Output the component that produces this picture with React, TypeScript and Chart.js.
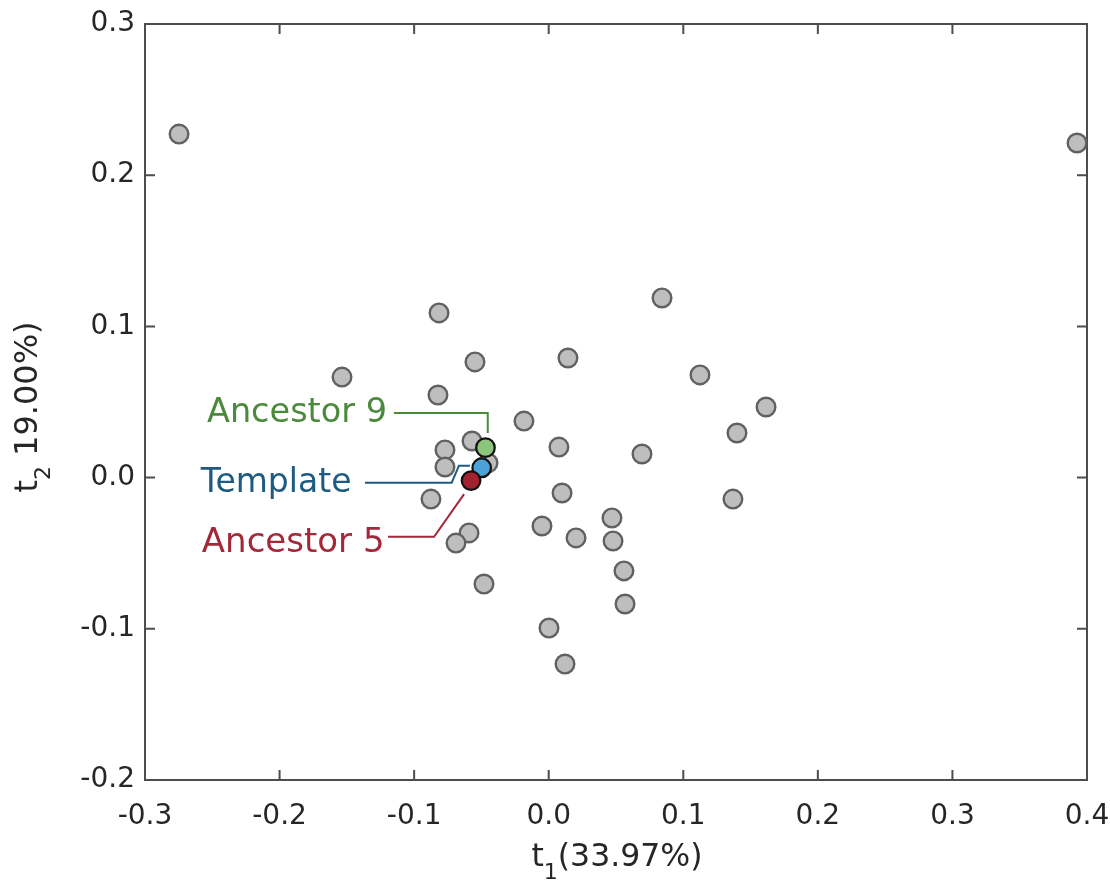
import React, { useEffect, useRef } from "react";
import { Chart, registerables } from "chart.js";

Chart.register(...registerables);

// ---- data ----
const sampleX = [
  -0.2747, 0.3926, -0.0815, 0.0842, -0.1536, -0.0548, 0.0143, 0.1124,
  -0.0823, -0.0184, 0.1615, 0.1399, 0.0076, 0.0693, -0.0771, -0.057,
  -0.0771, -0.0451, -0.0875, 0.0099, 0.1369, -0.005, 0.047, 0.0203,
  0.0478, -0.0592, -0.0689, 0.0559, -0.0481, 0.0567, 0.0002, 0.0121,
];
const sampleY = [
  0.2272, 0.2213, 0.1089, 0.1188, 0.0665, 0.0765, 0.0791, 0.0679,
  0.0546, 0.0374, 0.0467, 0.0295, 0.0202, 0.0156, 0.0183, 0.0242,
  0.007, 0.0097, -0.0142, -0.0102, -0.0142, -0.032, -0.0267, -0.0399,
  -0.0419, -0.0366, -0.0433, -0.0617, -0.0704, -0.0836, -0.0995, -0.1233,
];
const templateX = [-0.0498];
const templateY = [0.0065];
const ancestor5X = [-0.0577];
const ancestor5Y = [-0.002];
const ancestor9X = [-0.047];
const ancestor9Y = [0.0198];

const xTicks = [-0.3, -0.2, -0.1, 0.0, 0.1, 0.2, 0.3, 0.4];
const yTicks = [-0.2, -0.1, 0.0, 0.1, 0.2, 0.3];

const xTitleMain = "t";
const xTitleSub = "1";
const xTitleRest = "(33.97%)";
const yTitleMain = "t";
const yTitleSub = "2";
const yTitleRest = " 19.00%)";

// callouts in data units: label anchor (right end, baseline) and connector path
const labelAncestor9 = "Ancestor 9";
const labelTemplate = "Template";
const labelAncestor5 = "Ancestor 5";
const ancestor9LabelAt = [-0.1202, 0.037];
const templateLabelAt = [-0.1466, -0.0093];
const ancestor5LabelAt = [-0.122, -0.049];
const ancestor9Path = [[-0.115, 0.0427], [-0.0453, 0.0427], [-0.0453, 0.0295]];
const templatePath = [[-0.1365, -0.0034], [-0.0721, -0.0034], [-0.0667, 0.0079], [-0.0585, 0.0079]];
const ancestor5Path = [[-0.1194, -0.0391], [-0.0852, -0.0391], [-0.0629, -0.0109]];

const FONT = "'DejaVu Sans', sans-serif";
const GREEN = "#4b8a3c";
const BLUE = "#1d5b82";
const RED = "#a3283a";
const AXIS = "#4d4d4d";
const TEXT = "#262626";

const fmt = (v: number) => (Math.abs(v) < 1e-9 ? "0.0" : Number(v).toFixed(1));

const decorPlugin = {
  id: "decor",
  beforeDatasetsDraw(chart: any) {
    const { ctx, chartArea: a, scales } = chart;
    ctx.save();
    ctx.strokeStyle = AXIS;
    ctx.lineWidth = 2;
    ctx.strokeRect(a.left, a.top, a.right - a.left, a.bottom - a.top);
    const L = 10;
    ctx.beginPath();
    for (const t of xTicks) {
      const px = scales.x.getPixelForValue(t);
      ctx.moveTo(px, a.bottom);
      ctx.lineTo(px, a.bottom - L);
      ctx.moveTo(px, a.top);
      ctx.lineTo(px, a.top + L);
    }
    for (const t of yTicks) {
      const py = scales.y.getPixelForValue(t);
      ctx.moveTo(a.left, py);
      ctx.lineTo(a.left + L, py);
      ctx.moveTo(a.right, py);
      ctx.lineTo(a.right - L, py);
    }
    ctx.stroke();
    ctx.restore();
  },
  afterDatasetsDraw(chart: any) {
    const { ctx, scales } = chart;
    const X = (v: number) => scales.x.getPixelForValue(v);
    const Y = (v: number) => scales.y.getPixelForValue(v);
    ctx.save();
    const callouts: [string, number[], number[][], string, number][] = [
      [labelAncestor9, ancestor9LabelAt, ancestor9Path, GREEN, 33.5],
      [labelTemplate, templateLabelAt, templatePath, BLUE, 33],
      [labelAncestor5, ancestor5LabelAt, ancestor5Path, RED, 34],
    ];
    for (const [label, at, path, color, size] of callouts) {
      ctx.strokeStyle = color;
      ctx.lineWidth = 2;
      ctx.beginPath();
      path.forEach((p, i) => {
        if (i === 0) ctx.moveTo(X(p[0]), Y(p[1]));
        else ctx.lineTo(X(p[0]), Y(p[1]));
      });
      ctx.stroke();
      ctx.fillStyle = color;
      ctx.font = `${size}px ${FONT}`;
      ctx.textAlign = "right";
      ctx.textBaseline = "alphabetic";
      ctx.fillText(label, X(at[0]), Y(at[1]));
    }
    ctx.restore();
  },
  afterDraw(chart: any) {
    const { ctx, chartArea: a } = chart;
    ctx.save();
    ctx.fillStyle = TEXT;
    ctx.textBaseline = "alphabetic";
    ctx.textAlign = "left";
    const drawTitle = (m: string, s: string, r: string, cx: number, base: number, size: number) => {
      const mainFont = `${size}px ${FONT}`;
      const subFont = `${Math.round(size * 0.7)}px ${FONT}`;
      ctx.font = mainFont;
      const w1 = ctx.measureText(m).width;
      const w3 = ctx.measureText(r).width;
      ctx.font = subFont;
      const w2 = ctx.measureText(s).width;
      let x = cx - (w1 + w2 + w3) / 2;
      ctx.font = mainFont;
      ctx.fillText(m, x, base);
      x += w1;
      ctx.font = subFont;
      ctx.fillText(s, x, base + 13);
      x += w2;
      ctx.font = mainFont;
      ctx.fillText(r, x, base);
    };
    // x title
    drawTitle(xTitleMain, xTitleSub, xTitleRest, (a.left + a.right) / 2 + 1, 866, 31.5);
    // y title (rotated)
    ctx.translate(37, (a.top + a.bottom) / 2 + 5);
    ctx.rotate(-Math.PI / 2);
    drawTitle(yTitleMain, yTitleSub, yTitleRest, 0, 0, 32);
    ctx.restore();
  },
};

export default function App() {
  const ref = useRef<HTMLCanvasElement | null>(null);
  useEffect(() => {
    document.body.style.margin = "0";
    const canvas = ref.current!;
    const special = (fill: string, order: number) => ({
      backgroundColor: fill,
      borderColor: "#111111",
      pointBackgroundColor: fill,
      pointBorderColor: "#111111",
      pointBorderWidth: 2.2,
      pointRadius: 9.3,
      order,
    });
    const chart = new Chart(canvas, {
      type: "scatter",
      data: {
        datasets: [
          {
            label: "Ancestor 9",
            data: ancestor9X.map((x, i) => ({ x, y: ancestor9Y[i] })),
            ...special("#8cc57c", 1),
          },
          {
            label: "Ancestor 5",
            data: ancestor5X.map((x, i) => ({ x, y: ancestor5Y[i] })),
            ...special("#a3222f", 2),
          },
          {
            label: "Template",
            data: templateX.map((x, i) => ({ x, y: templateY[i] })),
            ...special("#4aa2d8", 3),
          },
          {
            label: "Samples",
            data: sampleX.map((x, i) => ({ x, y: sampleY[i] })),
            backgroundColor: "#bebebe",
            borderColor: "#616161",
            pointBackgroundColor: "#bebebe",
            pointBorderColor: "#616161",
            pointBorderWidth: 2.4,
            pointRadius: 9.3,
            order: 10,
          },
        ],
      },
      options: {
        animation: false,
        responsive: false,
        devicePixelRatio: 1,
        layout: { padding: { top: 24, right: 23, left: 0, bottom: 0 } },
        plugins: { legend: { display: false }, tooltip: { enabled: false } },
        scales: {
          x: {
            type: "linear",
            min: -0.3,
            max: 0.4,
            afterBuildTicks: (s: any) => {
              s.ticks = xTicks.map((v) => ({ value: v }));
            },
            ticks: {
              callback: (v: any) => fmt(Number(v)),
              font: { family: FONT, size: 28 },
              color: TEXT,
              padding: 20,
              maxRotation: 0,
              autoSkip: false,
            },
            grid: { display: false, drawTicks: false },
            border: { display: false },
            afterFit: (s: any) => {
              s.height = 101;
              s.paddingLeft = 0;
              s.paddingRight = 0;
            },
          },
          y: {
            type: "linear",
            min: -0.2,
            max: 0.3,
            afterBuildTicks: (s: any) => {
              s.ticks = yTicks.map((v) => ({ value: v }));
            },
            ticks: {
              callback: (v: any) => fmt(Number(v)),
              font: { family: FONT, size: 28 },
              color: TEXT,
              padding: 10,
              autoSkip: false,
            },
            grid: { display: false, drawTicks: false },
            border: { display: false },
            afterFit: (s: any) => {
              s.width = 145;
              s.paddingTop = 0;
              s.paddingBottom = 0;
            },
          },
        },
      },
      plugins: [decorPlugin],
    } as any);
    return () => chart.destroy();
  }, []);
  return (
    <div style={{ width: 1110, height: 881, background: "#fff" }}>
      <canvas ref={ref} width={1110} height={881} style={{ display: "block" }} />
    </div>
  );
}
